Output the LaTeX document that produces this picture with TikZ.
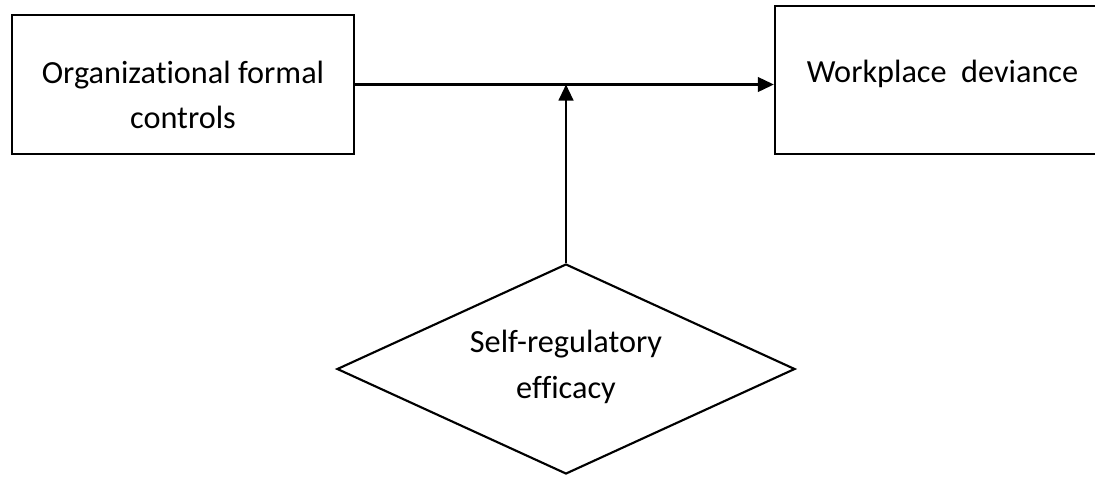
\documentclass[tikz,border=0pt]{standalone}
\usepackage{fontspec}
\setmainfont[Ligatures=NoCommon]{Carlito}
\usetikzlibrary{shapes.geometric,arrows.meta}
\begin{document}
\begin{tikzpicture}[x=0.75pt,y=-0.75pt,
  box/.style={draw=black,line width=1.75pt,inner sep=0pt,rectangle},
  dia/.style={draw=black,line width=1.6pt,inner sep=0pt,diamond},
  lbl/.style={inner sep=0pt,anchor=base,font=\fontsize{24.2}{29}\selectfont},
  conn/.style={line width=1.6pt,-{Triangle[length=12pt,width=11pt]}}]
\useasboundingbox (0,0) rectangle (1095,476);
\node[box,minimum width=256.5pt,minimum height=104.25pt] (L) at (183,84.5) {};
\node[box,minimum width=240.75pt,minimum height=111pt] (R) at (935.5,80) {};
\node[dia,minimum width=343.5pt,minimum height=157.5pt] (D) at (566,369) {};
\node[lbl] (L1) at (183,83) {Organizational formal};
\node[lbl] (L2) at (183,128) {controls};
\node[lbl] (R1) at (942.5,82) {Workplace\ \ deviance};
\node[lbl] (D1) at (566,352) {Self-regulatory};
\node[lbl] (D2) at (566,398) {efficacy};
\coordinate (J) at (566,84.5);
\draw[conn] (L.east) -- (R.west |- L.east);
\draw[conn] (D.north) -- (J);
\end{tikzpicture}
\end{document}
